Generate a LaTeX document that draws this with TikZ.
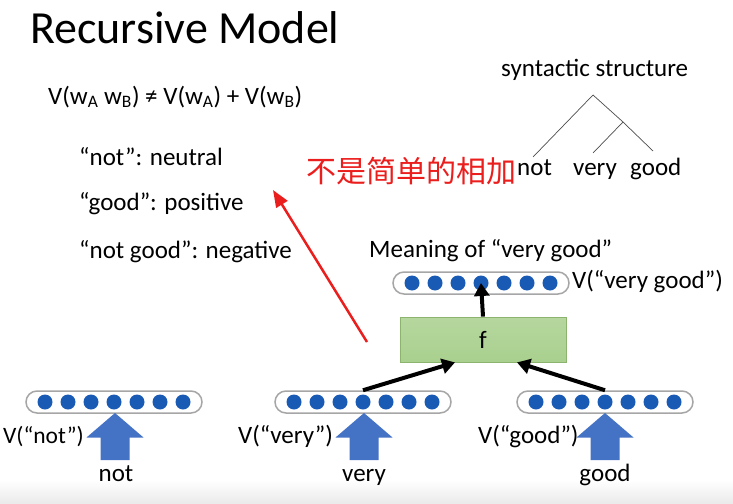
\documentclass[tikz,border=0pt]{standalone}
\usepackage{fontspec}
\setmainfont{Carlito}
\newfontfamily\cjk{Noto Sans CJK SC}
\usetikzlibrary{arrows.meta,calc}
\definecolor{dotblue}{RGB}{25,90,180}
\definecolor{arrblue}{RGB}{68,114,196}
\definecolor{fgreen}{RGB}{169,208,142}
\definecolor{fborder}{RGB}{140,180,110}
\definecolor{hintred}{RGB}{235,30,30}

\begin{document}
\begin{tikzpicture}[x=1pt, y=-1pt,
    txt/.style={anchor=base west, inner sep=0pt, font=\fontsize{25}{29}\selectfont},
    vec/.style={draw=gray!70, line width=1.5pt, fill=white, rounded corners=11pt,
                minimum width=176pt, minimum height=22pt, inner sep=0pt},
    dot/.style={fill=dotblue},
    conn/.style={-{Triangle[length=13pt,width=15pt]}, line width=4pt},
    blockarrow/.style={fill=arrblue}]

\useasboundingbox (0,0) rectangle (733,503);
\fill[top color=white, bottom color=black!8] (0,480) rectangle (733,503);

% title and notes
\node[anchor=base west, inner sep=0pt, font=\fontsize{46}{52}\selectfont] (title) at (30,44) {Recursive Model};
\node[txt] (eqn) at (48,104) {V(w\textsubscript{A} w\textsubscript{B}) ≠ V(w\textsubscript{A}) + V(w\textsubscript{B})};
\node[txt] (notN) at (79,165) {``not'': neutral};
\node[txt] (goodP) at (79,210) {``good'': positive};
\node[txt] (notgoodN) at (79,258) {``not good'': negative};

% syntactic structure
\node[txt] (synt) at (501,77) {syntactic structure};
\coordinate (tTop) at (593,95);
\coordinate (tMid) at (623,122);
\coordinate (lNot) at (533,157);
\coordinate (lVery) at (593,153);
\coordinate (lGood) at (653,151);
\draw[black!70, line width=0.7pt] (tTop) -- (lNot);
\draw[black!70, line width=0.7pt] (tTop) -- (tMid) -- (lGood);
\draw[black!70, line width=0.7pt] (tMid) -- (lVery);
\node[txt] (treeNot) at (517,175) {not};
\node[txt] (treeVery) at (573,175) {very};
\node[txt] (treeGood) at (630,175) {good};

\node[anchor=west, inner sep=0pt, text=hintred, font=\cjk\fontsize{30}{32}\selectfont] (hint) at (306,171) {不是简单的相加};

% network
\node[txt] (meaning) at (369,257) {Meaning of ``very good''};
\node[vec] (vTop) at (481,283) {};
\node[txt] (vTopL) at (572,288) {V(``very good'')};
\node[draw=fborder, line width=0.8pt, top color=fgreen!85!white, bottom color=fgreen,
      minimum width=166pt, minimum height=45pt, font=\fontsize{25}{29}\selectfont] (f) at (483,339.5) {f};

\node[vec] (vNot) at (114,402) {};
\node[vec] (vVery) at (363,402) {};
\node[vec] (vGood) at (605,402) {};
\foreach \v in {vTop,vNot,vVery,vGood}
    \foreach \i in {-3,...,3}
        \fill[dot] ($(\v)+(\i*23,0)$) circle (7.5pt);

\draw[conn] (vVery.north) -- ($(f.south)+(-28,0)$);
\draw[conn] (vGood.north) -- ($(f.south)+(34,0)$);
\draw[conn] (f.north) -- (vTop.center);

\foreach \x in {115,364,605}
    \fill[blockarrow] (\x,413) -- (\x+28.5,437.5) -- (\x+14.5,437.5) -- (\x+14.5,460)
        -- (\x-14.5,460) -- (\x-14.5,437.5) -- (\x-28.5,437.5) -- cycle;

\node[anchor=base east, inner sep=0pt, font=\fontsize{23.5}{28}\selectfont] (vNotL) at (84,443) {V(``not'')};
\node[txt] (vVeryL) at (238,443) {V(``very'')};
\node[txt] (vGoodL) at (478,443) {V(``good'')};
\node[anchor=base, inner sep=0pt, font=\fontsize{25}{29}\selectfont] (wNot) at (116,481) {not};
\node[anchor=base, inner sep=0pt, font=\fontsize{25}{29}\selectfont] (wVery) at (364,481) {very};
\node[anchor=base, inner sep=0pt, font=\fontsize{25}{29}\selectfont] (wGood) at (605,481) {good};

% red hint arrow
\coordinate (redTail) at (367,342);
\coordinate (redTip) at (273,190);
\draw[hintred, line width=2.5pt, -{Triangle[length=17pt,width=13pt]}] (redTail) -- (redTip);
\end{tikzpicture}
\end{document}
